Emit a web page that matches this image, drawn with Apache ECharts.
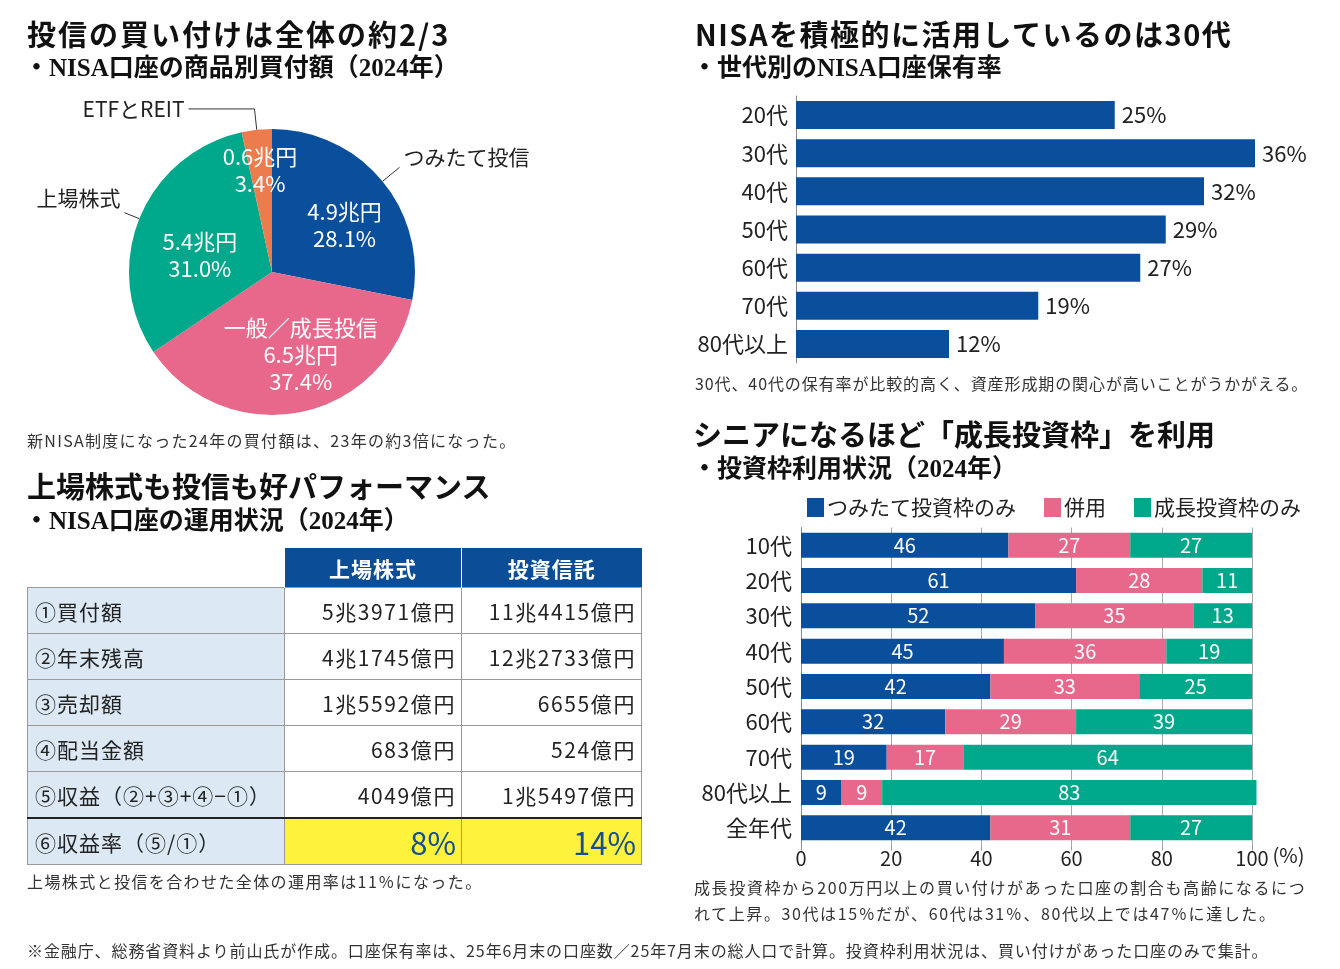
<!DOCTYPE html>
<html lang="ja">
<head>
<meta charset="utf-8">
<title>NISA口座の利用状況</title>
<script src="https://cdn.jsdelivr.net/npm/echarts@6/dist/echarts.min.js"></script>
<style>
  html, body { margin: 0; padding: 0; background: #fff; }
  body { width: 1340px; height: 969px; position: relative; overflow: hidden;
         font-family: "Noto Sans CJK JP", sans-serif; color: #222; }
  #chart { position: absolute; left: 0; top: 0; width: 1340px; height: 969px; }
  .txt { position: absolute; white-space: nowrap; }
  .head { font-size: 29px; font-weight: bold; line-height: 36px; color: #111; }
  .sub { font-family: "Liberation Serif", "Noto Sans CJK JP", serif; font-size: 25px;
         font-weight: bold; line-height: 30px; color: #111; }
  .note { font-size: 16px; line-height: 26px; color: #333; letter-spacing: 0.9px; }

  #perf { position: absolute; left: 27px; top: 548px; border-collapse: collapse;
          table-layout: fixed; width: 614px; font-size: 21px; color: #222; }
  #perf th { background: #0b4d97; color: #fff; font-weight: bold; height: 39px;
             padding: 0; border-left: 1px solid #fff; text-align: center; letter-spacing: 1px; }
  #perf td { border: 1px solid #9a9a9a; height: 45px; padding: 0 6px; }
  #perf td.blank { border: none; background: none; height: 39px; padding: 0; }
  #perf td.lbl { background: #dce9f5; padding-left: 7px; text-align: left; letter-spacing: 1px; }
  #perf td.val { text-align: right; letter-spacing: 1.6px; padding-right: 5px; }
  #perf tr.rate td { border-top: 2px solid #222; }
  #perf tr.rate td.val { background: #fff23c; color: #164e96; font-size: 31px; letter-spacing: 0; }
</style>
</head>
<body>
<div id="chart"></div>

<div class="txt head" style="left:27px; top:15px; letter-spacing:2px;">投信の買い付けは全体の約2/3</div>
<div class="txt sub" style="left:24px; top:53px;">・NISA口座の商品別買付額（2024年）</div>
<div class="txt note" style="left:27px; top:427px; letter-spacing:1.3px;">新NISA制度になった24年の買付額は、23年の約3倍になった。</div>

<div class="txt head" style="left:27px; top:467px;">上場株式も投信も好パフォーマンス</div>
<div class="txt sub" style="left:24px; top:506px;">・NISA口座の運用状況（2024年）</div>
<table id="perf">
  <colgroup><col style="width:257px"><col style="width:177px"><col style="width:180px"></colgroup>
  <tbody></tbody>
</table>
<div class="txt note" style="left:27px; top:868px; letter-spacing:1.4px;">上場株式と投信を合わせた全体の運用率は11％になった。</div>

<div class="txt head" style="left:695px; top:15px; letter-spacing:1.5px;">NISAを積極的に活用しているのは30代</div>
<div class="txt sub" style="left:692px; top:53px;">・世代別のNISA口座保有率</div>
<div class="txt note" style="left:695px; top:370px;">30代、40代の保有率が比較的高く、資産形成期の関心が高いことがうかがえる。</div>

<div class="txt head" style="left:693px; top:415px;">シニアになるほど「成長投資枠」を利用</div>
<div class="txt sub" style="left:692px; top:454px;">・投資枠利用状況（2024年）</div>
<div class="txt note" style="left:694px; top:874px; letter-spacing:1.6px;">成長投資枠から200万円以上の買い付けがあった口座の割合も高齢になるにつ<br>れて上昇。30代は15％だが、60代は31％、80代以上では47％に達した。</div>

<div class="txt note" style="left:27px; top:937px;">※金融庁、総務省資料より前山氏が作成。口座保有率は、25年6月末の口座数／25年7月末の総人口で計算。投資枠利用状況は、買い付けがあった口座のみで集計。</div>

<script>
// 商品別買付額 (2024年)
var pieNames = ['つみたて投信', '一般／成長投信', '上場株式', 'ETFとREIT'];
var pieAmounts = [4.9, 6.5, 5.4, 0.6];      // 兆円
var pieShares = [28.1, 37.4, 31.0, 3.4];    // %
var namesInside = ['一般／成長投信'];

// 運用状況 (2024年)
var tableCols = ['上場株式', '投資信託'];
var tableRows = ['①買付額', '②年末残高', '③売却額', '④配当金額', '⑤収益（②+③+④−①）', '⑥収益率（⑤/①）'];
var stockVals = ['5兆3971億円', '4兆1745億円', '1兆5592億円', '683億円', '4049億円', '8%'];
var trustVals = ['11兆4415億円', '12兆2733億円', '6655億円', '524億円', '1兆5497億円', '14%'];

// 世代別のNISA口座保有率
var ageCats = ['20代', '30代', '40代', '50代', '60代', '70代', '80代以上'];
var ageRates = [25, 36, 32, 29, 27, 19, 12];

// 投資枠利用状況 (2024年)
var frameCats = ['10代', '20代', '30代', '40代', '50代', '60代', '70代', '80代以上', '全年代'];
var tsumitateOnly = [46, 61, 52, 45, 42, 32, 19, 9, 42];
var bothFrames = [27, 28, 35, 36, 33, 29, 17, 9, 31];
var growthOnly = [27, 11, 13, 19, 25, 39, 64, 83, 27];
var frameNames = ['つみたて投資枠のみ', '併用', '成長投資枠のみ'];

// table
var rowsHtml = '<tr><td class="blank"></td>' + tableCols.map(function (c) {
    return '<th>' + c + '</th>';
}).join('') + '</tr>';
tableRows.forEach(function (r, i) {
    var last = i === tableRows.length - 1;
    rowsHtml += '<tr' + (last ? ' class="rate"' : '') + '><td class="lbl">' + r + '</td>' +
        '<td class="val">' + stockVals[i] + '</td><td class="val">' + trustVals[i] + '</td></tr>';
});
document.querySelector('#perf tbody').innerHTML = rowsHtml;

var blue = '#0a4f9c', pink = '#e8688b', green = '#00a88b', orange = '#ec7b4d';
var pieColors = [blue, pink, green, orange];

// nudges for the labels drawn inside the slices
var insideShift = [[15, 0], [14, 10], [-3, 11], [-4, -28]];
// leader lines for the outer labels (lift raises the text above the line end)
var outsideLine = [
    { length: 22, length2: 0, lift: 10 },
    null,
    { length: 16, length2: 0, lift: 15 },
    { length: 21, length2: 66, lift: 0 }
];

var chart = echarts.init(document.getElementById('chart'));

var option = {
    animation: false,
    textStyle: { fontFamily: '"Noto Sans CJK JP", sans-serif' },
    legend: {
        data: frameNames,
        left: 802,
        top: 492,
        icon: 'rect',
        itemWidth: 17,
        itemHeight: 19,
        itemGap: 28,
        selectedMode: false,
        textStyle: { fontSize: 21, color: '#222', padding: [0, 0, 0, -2] }
    },
    grid: [
        { left: 796, top: 96, width: 510, height: 267 },
        { left: 801, top: 527.5, width: 451, height: 318 }
    ],
    xAxis: [
        { gridIndex: 0, type: 'value', min: 0, max: 40, show: false },
        {
            gridIndex: 1, type: 'value', min: 0, max: 100, interval: 20,
            name: '(%)', nameLocation: 'end', nameGap: 18,
            nameTextStyle: { fontSize: 20, color: '#222', verticalAlign: 'top', padding: [0, 0, 0, 0] },
            axisLine: { show: false },
            axisTick: { show: true, length: 5, lineStyle: { color: '#999' } },
            splitLine: { show: true, lineStyle: { color: '#aaa', width: 1 } },
            axisLabel: { fontSize: 20, color: '#222', margin: 3 }
        }
    ],
    yAxis: [
        {
            gridIndex: 0, type: 'category', data: ageCats, inverse: true,
            axisLine: { show: true, lineStyle: { color: '#888' } },
            axisTick: { show: false },
            axisLabel: { fontSize: 22, color: '#222', margin: 8 }
        },
        {
            gridIndex: 1, type: 'category', data: frameCats, inverse: true,
            axisLine: { show: true, lineStyle: { color: '#888' } },
            axisTick: { show: false },
            axisLabel: { fontSize: 22, color: '#222', margin: 9 }
        }
    ],
    series: [
        {
            type: 'pie',
            center: [272, 272],
            radius: 143,
            startAngle: 90,
            clockwise: true,
            avoidLabelOverlap: false,
            silent: true,
            data: pieNames.map(function (name, i) {
                return { name: name, value: pieShares[i], itemStyle: { color: pieColors[i] } };
            }),
            label: {
                show: true,
                position: 'inside',
                color: '#fff',
                fontSize: 22,
                lineHeight: 27,
                formatter: function (p) {
                    var lines = [pieAmounts[p.dataIndex].toFixed(1) + '兆円', pieShares[p.dataIndex].toFixed(1) + '%'];
                    if (namesInside.indexOf(p.name) >= 0) lines.unshift(p.name);
                    return lines.join('\n');
                }
            },
            labelLine: { show: false },
            labelLayout: function (p) {
                var s = insideShift[p.dataIndex];
                return { dx: s[0], dy: s[1] };
            }
        },
        {
            type: 'pie',
            center: [272, 272],
            radius: 143,
            startAngle: 90,
            clockwise: true,
            avoidLabelOverlap: false,
            silent: true,
            itemStyle: { color: 'transparent' },
            data: pieNames.map(function (name, i) {
                var o = outsideLine[i];
                if (!o) {
                    return { name: name, value: pieShares[i], label: { show: false }, labelLine: { show: false } };
                }
                return {
                    name: name, value: pieShares[i],
                    label: o.lift ? { formatter: '{b}\n', lineHeight: o.lift * 2 } : {},
                    labelLine: { length: o.length, length2: o.length2 }
                };
            }),
            label: {
                show: true,
                position: 'outside',
                color: '#222',
                fontSize: 21,
                distanceToLabelLine: 4,
                formatter: '{b}'
            },
            labelLine: { show: true, smooth: false, lineStyle: { color: '#333', width: 1 } }
        },
        {
            type: 'bar',
            xAxisIndex: 0, yAxisIndex: 0,
            data: ageRates,
            barWidth: 28,
            itemStyle: { color: blue },
            label: { show: true, position: 'right', distance: 7, fontSize: 22, color: '#222', formatter: '{c}%' }
        },
        {
            name: frameNames[0], type: 'bar', stack: 'frame',
            xAxisIndex: 1, yAxisIndex: 1, data: tsumitateOnly, barWidth: 25, clip: false,
            itemStyle: { color: blue },
            label: { show: true, position: 'inside', fontSize: 20, color: '#fff' }
        },
        {
            name: frameNames[1], type: 'bar', stack: 'frame',
            xAxisIndex: 1, yAxisIndex: 1, data: bothFrames, barWidth: 25, clip: false,
            itemStyle: { color: pink },
            label: { show: true, position: 'inside', fontSize: 20, color: '#fff' }
        },
        {
            name: frameNames[2], type: 'bar', stack: 'frame',
            xAxisIndex: 1, yAxisIndex: 1, data: growthOnly, barWidth: 25, clip: false,
            itemStyle: { color: green },
            label: { show: true, position: 'inside', fontSize: 20, color: '#fff' }
        }
    ]
};

chart.setOption(option);
</script>
</body>
</html>
